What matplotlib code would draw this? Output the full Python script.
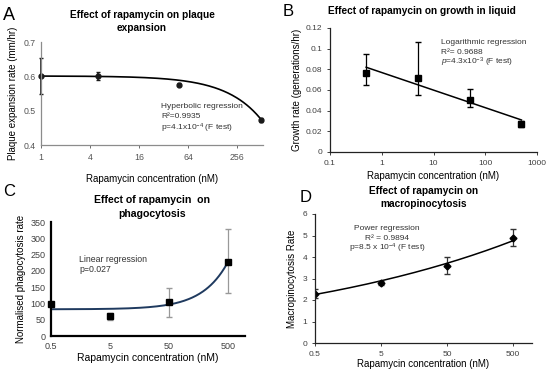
import numpy as np
import matplotlib
matplotlib.use("Agg")
import matplotlib.pyplot as plt
from matplotlib.ticker import FixedLocator, FixedFormatter, NullLocator

plt.rcParams['font.family'] = ['Liberation Sans', 'DejaVu Sans']
plt.rcParams['mathtext.fontset'] = 'custom'
plt.rcParams['mathtext.rm'] = 'Liberation Sans'
plt.rcParams['mathtext.it'] = 'Liberation Sans:italic'
plt.rcParams['mathtext.bf'] = 'Liberation Sans:bold'

W, H = 550, 370

# ---------------- data ----------------
# Panel A: plaque expansion
a_conc = [1, 5, 50, 500]
a_rate = [0.601, 0.601, 0.576, 0.473]
a_err = [0.053, 0.013, 0.005, 0.005]
a_fit_intercept, a_fit_slope = 0.601, -0.000252
a_xticks = [1, 4, 16, 64, 256]
a_yticks = [0.4, 0.5, 0.6, 0.7]

# Panel B: growth in liquid
b_conc = [0.5, 5, 50, 500]
b_rate = [0.076, 0.072, 0.050, 0.027]
b_err_low = [0.011, 0.017, 0.006, 0.003]
b_err_high = [0.019, 0.034, 0.011, 0.003]
b_fit_a, b_fit_b = 0.0769, -0.0170
b_xticks = [0.1, 1, 10, 100, 1000]
b_yticks = [0, 0.02, 0.04, 0.06, 0.08, 0.1, 0.12]

# Panel C: phagocytosis
c_conc = [0.5, 5, 50, 500]
c_rate = [97, 60, 103, 228]
c_err_low = [0, 12, 46, 96]
c_err_high = [0, 12, 45, 99]
c_fit_a, c_fit_b = 82, 0.29
c_xticks = [0.5, 5, 50, 500]
c_yticks = [0, 50, 100, 150, 200, 250, 300, 350]

# Panel D: macropinocytosis
d_conc = [0.5, 5, 50, 500]
d_rate = [2.3, 2.8, 3.6, 4.9]
d_err = [0.2, 0.08, 0.4, 0.4]
d_fit_a, d_fit_b = 2.43, 0.108
d_xticks = [0.5, 5, 50, 500]
d_yticks = [0, 1, 2, 3, 4, 5, 6]

fig = plt.figure(figsize=(W / 100, H / 100), dpi=100)


def ax_px(l, r, t, b):
    return fig.add_axes([l / W, 1 - b / H, (r - l) / W, (b - t) / H])


def ftext(x, y, s, **kw):
    fig.text(x / W, 1 - y / H, s, **kw)


def style(ax, color, lw):
    for s in ['top', 'right']:
        ax.spines[s].set_visible(False)
    for s in ['left', 'bottom']:
        ax.spines[s].set_color(color)
        ax.spines[s].set_linewidth(lw)
    ax.tick_params(labelsize=6, colors='#404040', length=2, width=0.6)
    ax.tick_params(axis='both', color=color)
    ax.set_facecolor('none')


TS = 7.3  # title size
LS = 7    # label size
ANN = dict(fontsize=6, color='#333333', va='center')

# ---------------- Panel A ----------------
ax = ax_px(41, 263, 42, 145)
style(ax, '#8c8c8c', 0.9)
ax.tick_params(labelsize=6.3, colors='#555555')
ax.set_xscale('log', base=2)
ax.set_xlim(1, 530)
ax.set_ylim(0.4, 0.7)
ax.xaxis.set_major_locator(FixedLocator(a_xticks))
ax.xaxis.set_major_formatter(FixedFormatter([str(v) for v in a_xticks]))
ax.xaxis.set_minor_locator(NullLocator())
ax.yaxis.set_major_locator(FixedLocator(a_yticks))
ax.yaxis.set_major_formatter(FixedFormatter(['0.4', '0.5', '0.6', '0.7']))
ax.tick_params(axis='y', length=0)
xs = np.geomspace(1, 500, 200)
ax.plot(xs, a_fit_intercept + a_fit_slope * xs, color='black', lw=1.2)
ax.errorbar(a_conc, a_rate, yerr=a_err, fmt='o', ms=3.5, color='#1a1a1a',
            ecolor='#1a1a1a', elinewidth=1.2, capsize=1.5, clip_on=False)
ax.set_xlabel('Rapamycin concentration (nM)', fontsize=LS, labelpad=9)
ax.set_ylabel('Plaque expansion rate (mm/hr)', fontsize=LS, labelpad=4)
ftext(161, 106, 'Hyperbolic regression', **ANN)
ftext(161, 117, 'R²=0.9935', **ANN)
ftext(161, 128, 'p=4.1x10$^{-4}$ (F test)', **ANN)
ftext(3, 16, 'A', fontsize=13, va='center', ha='left')
ftext(142, 15, 'Effect of rapamycin on plaque', fontsize=TS, fontweight='bold',
      ha='center', va='center')
ftext(142, 28, 'expansion', fontsize=TS, fontweight='bold', ha='center', va='center')

# ---------------- Panel B ----------------
ax = ax_px(330, 537, 28, 152)
style(ax, '#222222', 0.9)
ax.set_xscale('log')
ax.set_xlim(0.1, 1000)
ax.set_ylim(0, 0.12)
ax.xaxis.set_major_locator(FixedLocator(b_xticks))
ax.xaxis.set_major_formatter(FixedFormatter(['0.1', '1', '10', '100', '1000']))
ax.xaxis.set_minor_locator(NullLocator())
ax.yaxis.set_major_locator(FixedLocator(b_yticks))
ax.yaxis.set_major_formatter(FixedFormatter(['0', '0.02', '0.04', '0.06', '0.08', '0.1', '0.12']))
xs = np.geomspace(0.5, 500, 100)
ax.plot(xs, b_fit_a + b_fit_b * np.log10(xs), color='black', lw=1.1)
ax.errorbar(b_conc, b_rate, yerr=[b_err_low, b_err_high], fmt='s', ms=4,
            color='black', ecolor='black', elinewidth=0.9, capsize=2)
ax.set_xlabel('Rapamycin concentration (nM)', fontsize=LS, labelpad=3)
ax.set_ylabel('Growth rate (generations/hr)', fontsize=LS, labelpad=3)
ftext(441, 42, 'Logarithmic regression', **ANN)
ftext(441, 52, 'R²= 0.9688', **ANN)
ftext(441, 62, '$\\it{p}$=4.3x10$^{-3}$ (F test)', **ANN)
ftext(283, 12, 'B', fontsize=12, va='center', ha='left')
ftext(422, 11, 'Effect of rapamycin on growth in liquid', fontsize=TS,
      fontweight='bold', ha='center', va='center')

# ---------------- Panel C ----------------
ax = ax_px(51, 245, 222, 336)
style(ax, 'black', 1.6)
ax.set_xscale('log')
ax.set_xlim(0.5, 975)
ax.set_ylim(0, 350)
ax.xaxis.set_major_locator(FixedLocator(c_xticks))
ax.xaxis.set_major_formatter(FixedFormatter(['0.5', '5', '50', '500']))
ax.xaxis.set_minor_locator(NullLocator())
ax.yaxis.set_major_locator(FixedLocator(c_yticks))
ax.tick_params(length=0, labelsize=6.5, pad=4)
xs = np.geomspace(0.5, 500, 200)
ax.plot(xs, c_fit_a + c_fit_b * xs, color='#1f3a5f', lw=1.4)
ax.errorbar(c_conc, c_rate, yerr=[c_err_low, c_err_high], fmt='none',
            ecolor='#999999', elinewidth=0.9, capsize=2.5)
ax.plot(c_conc, c_rate, 's', ms=4.5, color='black', clip_on=False)
ax.set_xlabel('Rapamycin concentration (nM)', fontsize=7.5, labelpad=2)
ax.set_ylabel('Normalised phagocytosis rate', fontsize=7, labelpad=3)
ftext(79, 260, 'Linear regression', fontsize=6.3, color='#333333', va='center')
ftext(79, 270, 'p=0.027', fontsize=6.3, color='#333333', va='center')
ftext(3, 192, 'C', fontsize=12, va='center', ha='left')
ftext(152, 200, 'Effect of rapamycin  on', fontsize=TS + 0.3, fontweight='bold',
      ha='center', va='center')
ftext(152, 214, 'phagocytosis', fontsize=TS + 0.3, fontweight='bold', ha='center', va='center')

# ---------------- Panel D ----------------
ax = ax_px(315, 532, 214, 343)
style(ax, '#222222', 0.9)
ax.set_xscale('log')
ax.set_xlim(0.5, 975)
ax.set_ylim(0, 6)
ax.xaxis.set_major_locator(FixedLocator(d_xticks))
ax.xaxis.set_major_formatter(FixedFormatter(['0.5', '5', '50', '500']))
ax.xaxis.set_minor_locator(NullLocator())
ax.yaxis.set_major_locator(FixedLocator(d_yticks))
xs = np.geomspace(0.5, 500, 200)
ax.plot(xs, d_fit_a * xs ** d_fit_b, color='black', lw=1.1)
ax.errorbar(d_conc, d_rate, yerr=d_err, fmt='D', ms=3.5, color='black',
            ecolor='#333333', elinewidth=0.9, capsize=2)
ax.set_xlabel('Rapamycin concentration (nM)', fontsize=LS, labelpad=1)
ax.set_ylabel('Macropinocytosis Rate', fontsize=LS, labelpad=4)
ftext(387, 228, 'Power regression', ha='center', **ANN)
ftext(387, 238, 'R² = 0.9894', ha='center', **ANN)
ftext(387, 248, 'p=8.5 x 10$^{-4}$ (F test)', ha='center', **ANN)
ftext(300, 197, 'D', fontsize=12, va='center', ha='left')
ftext(424, 191, 'Effect of rapamycin on', fontsize=TS, fontweight='bold',
      ha='center', va='center')
ftext(424, 204, 'macropinocytosis', fontsize=TS, fontweight='bold', ha='center', va='center')

fig.savefig('out.png', dpi=100)
